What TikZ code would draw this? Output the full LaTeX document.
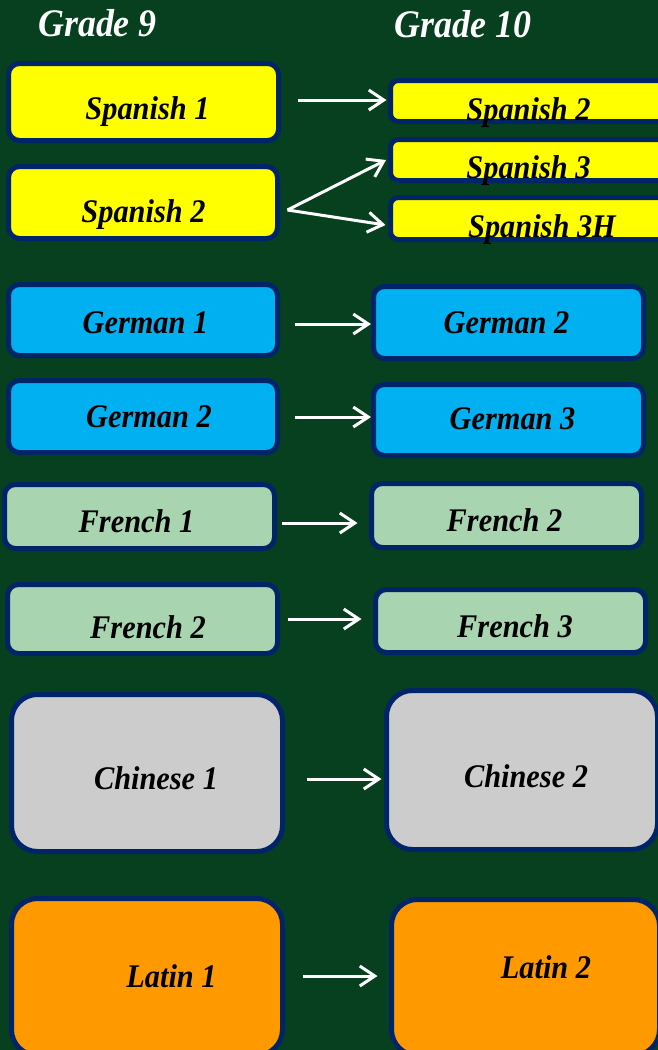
\documentclass[tikz,border=0pt]{standalone}
\usepackage{fontspec}
\setmainfont{Liberation Serif}
\newfontfamily\lblfont[FakeStretch=0.92]{Liberation Serif}
\usetikzlibrary{arrows.meta}
\definecolor{bggreen}{HTML}{06401E}
\definecolor{navy}{HTML}{002468}
\definecolor{spyellow}{HTML}{FFFF00}
\definecolor{deblue}{HTML}{00B0F0}
\definecolor{frgreen}{HTML}{A9D4B0}
\definecolor{chgray}{HTML}{CCCCCC}
\definecolor{laorange}{HTML}{FF9900}
\tikzset{
  box/.style={draw=navy, line width=5pt, inner sep=0pt, rounded corners=11pt},
  bigbox/.style={box, rounded corners=26pt},
  lbl/.style={anchor=base, inner sep=0pt, font=\lblfont\fontsize{33}{38}\selectfont\bfseries\itshape, text=black},
  title/.style={anchor=base, inner sep=0pt, font=\lblfont\fontsize{39}{44}\selectfont\bfseries\itshape, text=white},
  arr/.style={draw=white, line width=3pt, -{Straight Barb[length=15pt,width=20pt]}}
}
\begin{document}
\begin{tikzpicture}[x=1pt,y=-1pt]
\useasboundingbox (0,0) rectangle (658,1050);
\clip (0,0) rectangle (658,1050);
\fill[bggreen] (0,0) rectangle (658,1050);

% titles
\node[title] (t9) at (97.5,36) {Grade 9};
\node[title] (t10) at (463,37) {Grade 10};

% Spanish
\node[box, fill=spyellow, minimum width=270pt, minimum height=77pt] (sp1) at (143.5,102) {};
\node[box, fill=spyellow, minimum width=269pt, minimum height=72pt] (sp2l) at (143,202.5) {};
\node[box, fill=spyellow, rounded corners=8pt, minimum width=280pt, minimum height=41pt] (sp2r) at (530.5,101) {};
\node[box, fill=spyellow, rounded corners=8pt, minimum width=280pt, minimum height=41pt] (sp3r) at (530.5,160) {};
\node[box, fill=spyellow, rounded corners=8pt, minimum width=280pt, minimum height=42pt] (sp3h) at (530.5,218.5) {};
\node[lbl] (tsp1) at (147.5,119) {Spanish 1};
\node[lbl] (tsp2l) at (143.5,222) {Spanish 2};
\node[lbl] (tsp2r) at (528.5,120) {Spanish 2};
\node[lbl] (tsp3r) at (528.5,178) {Spanish 3};
\node[lbl] (tsp3h) at (542,237) {Spanish 3H};

% German
\node[box, fill=deblue, minimum width=269pt, minimum height=71pt] (g1) at (143,320) {};
\node[box, fill=deblue, minimum width=270pt, minimum height=72pt] (g2r) at (508.5,322.5) {};
\node[box, fill=deblue, minimum width=269pt, minimum height=72pt] (g2l) at (143,416.5) {};
\node[box, fill=deblue, minimum width=270pt, minimum height=71pt] (g3) at (508.5,420) {};
\node[lbl] (tg1) at (145.5,333) {German 1};
\node[lbl] (tg2r) at (506.5,333) {German 2};
\node[lbl] (tg2l) at (149,427) {German 2};
\node[lbl] (tg3) at (512.5,429) {German 3};

% French
\node[box, fill=frgreen, minimum width=270pt, minimum height=64pt] (f1) at (139.5,516.5) {};
\node[box, fill=frgreen, minimum width=270pt, minimum height=64pt] (f2r) at (506.5,515.5) {};
\node[box, fill=frgreen, minimum width=270pt, minimum height=69pt] (f2l) at (142.5,619) {};
\node[box, fill=frgreen, minimum width=270pt, minimum height=63pt] (f3) at (510.5,621) {};
\node[lbl] (tf1) at (136.5,532) {French 1};
\node[lbl] (tf2r) at (504.5,531) {French 2};
\node[lbl] (tf2l) at (148,638) {French 2};
\node[lbl] (tf3) at (515,637) {French 3};

% Chinese
\node[bigbox, fill=chgray, minimum width=271pt, minimum height=157pt] (c1) at (147,773) {};
\node[bigbox, fill=chgray, minimum width=271pt, minimum height=159pt] (c2) at (522,770) {};
\node[lbl] (tc1) at (156,789) {Chinese 1};
\node[lbl] (tc2) at (526,787) {Chinese 2};

% Latin
\node[bigbox, fill=laorange, minimum width=271pt, minimum height=157pt] (l1) at (147,977) {};
\node[bigbox, fill=laorange, minimum width=268pt, minimum height=156pt] (l2) at (525.5,977.5) {};
\node[lbl] (tl1) at (171.5,987) {Latin 1};
\node[lbl] (tl2) at (546,978) {Latin 2};

% arrows
\draw[arr] ([shift={(16.5,-2)}]sp1.east) -- ([shift={(-1.5,-1)}]sp2r.west);
\draw[arr] ([shift={(7.5,7.5)}]sp2l.east) -- ([shift={(-2,0)}]sp3r.west);
\draw[arr] ([shift={(7.5,7.5)}]sp2l.east) -- ([shift={(-2.5,6.5)}]sp3h.west);
\draw[arr] ([shift={(14.5,4)}]g1.east) -- ([shift={(0,1.5)}]g2r.west);
\draw[arr] ([shift={(14.5,0.5)}]g2l.east) -- ([shift={(0,0.5)}]g3.west |- g2l.east);
\draw[arr] ([shift={(4.5,6.5)}]f1.east) -- ([shift={(-11.5,7.5)}]f2r.west);
\draw[arr] ([shift={(7.5,0)}]f2l.east) -- ([shift={(-11.5,-2)}]f3.west);
\draw[arr] ([shift={(21.5,6)}]c1.east) -- ([shift={(-2.5,9)}]c2.west);
\draw[arr] ([shift={(17.5,-1)}]l1.east) -- ([shift={(-11.5,-1.5)}]l2.west);
\end{tikzpicture}
\end{document}
